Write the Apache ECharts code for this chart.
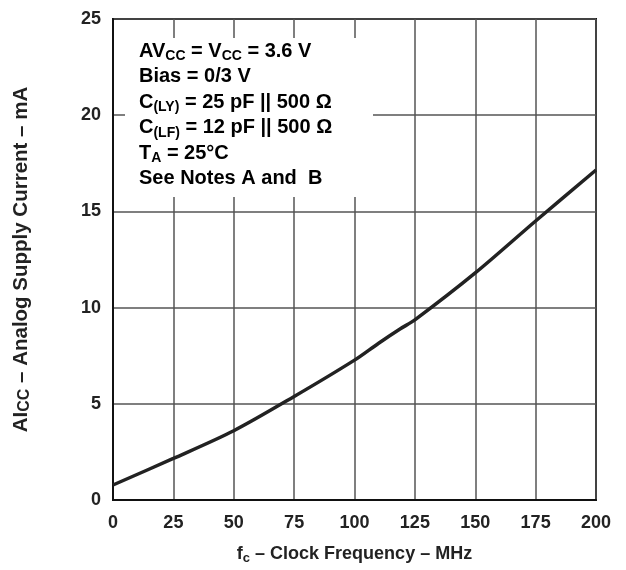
<!DOCTYPE html>
<html>
<head>
<meta charset="utf-8">
<script src="https://cdn.jsdelivr.net/npm/echarts@6/dist/echarts.min.js"></script>
<style>
  html, body { margin: 0; padding: 0; background: #fff; }
  #main { width: 626px; height: 570px; }
</style>
</head>
<body>
<div id="main"></div>
<script>
// curve: clock frequency (MHz) -> supply current (mA)
var freq = [0, 25, 50, 75, 100, 110, 119, 125, 150, 175, 200];
var current = [0.78, 2.16, 3.6, 5.38, 7.27, 8.15, 8.9, 9.36, 11.8, 14.5, 17.15];
var xTicks = [0, 25, 50, 75, 100, 125, 150, 175, 200];
var yTicks = [0, 5, 10, 15, 20, 25];
var notes = [
  '{b|AV}{s|CC}{b| = V}{s|CC}{b| = 3.6 V}',
  '{b|Bias = 0/3 V}',
  '{b|C}{s|(LY)}{b| = 25 pF || 500 Ω}',
  '{b|C}{s|(LF)}{b| = 12 pF || 500 Ω}',
  '{b|T}{s|A}{b| = 25°C}',
  '{b|See Notes A and  B}'
];

var font = '"Liberation Sans", Arial, Helvetica, sans-serif';
function mkRich(big, small, pad) {
  return {
    b: { fontSize: big, fontWeight: 'bold', fontFamily: font, color: '#222' },
    s: { fontSize: small, fontWeight: 'bold', fontFamily: font, color: '#222', padding: [pad, 0, 0, 0] }
  };
}
var noteRich = mkRich(20, 14, 11);

var pts = [];
for (var i = 0; i < freq.length; i++) {
  pts.push([freq[i], current[i]]);
}

var graphics = [{
  type: 'rect',
  left: 125, top: 38,
  shape: { width: 248, height: 159 },
  style: { fill: '#fff' },
  z: 5
}];
notes.forEach(function(t, k) {
  graphics.push({
    type: 'text',
    left: 139,
    top: 41 + k * 25.5,
    z: 6,
    style: { text: t, rich: noteRich }
  });
});

var myChart = echarts.init(document.getElementById('main'));
var option = {
  animation: false,
  grid: {
    left: 113, right: 30, top: 19, bottom: 69,
    show: true, borderColor: '#111', borderWidth: 2
  },
  xAxis: {
    type: 'value',
    min: 0, max: 200, interval: 25,
    name: '{b|f}{s|c}{b| – Clock Frequency – MHz}',
    nameLocation: 'middle',
    nameGap: 43,
    nameTextStyle: { rich: mkRich(18, 13, 9) },
    axisLine: { show: true, lineStyle: { color: '#111', width: 2 } },
    axisTick: { show: false },
    axisLabel: {
      margin: 14,
      fontSize: 18, fontWeight: 'bold', fontFamily: font, color: '#222',
      formatter: function(v) { return xTicks.indexOf(v) >= 0 ? String(v) : ''; }
    },
    splitLine: { show: true, lineStyle: { color: '#555', width: 1.5 } }
  },
  yAxis: {
    type: 'value',
    min: 0, max: 25, interval: 5,
    name: '{b|AI}{s|CC}{b| – Analog Supply Current – mA}',
    nameLocation: 'middle',
    nameGap: 80,
    nameTextStyle: { rich: mkRich(20.5, 16, 8) },
    axisLine: { show: true, lineStyle: { color: '#111', width: 2 } },
    axisTick: { show: false },
    axisLabel: {
      margin: 12,
      fontSize: 18, fontWeight: 'bold', fontFamily: font, color: '#222',
      formatter: function(v) { return yTicks.indexOf(v) >= 0 ? String(v) : ''; }
    },
    splitLine: { show: true, lineStyle: { color: '#555', width: 1.5 } }
  },
  series: [{
    type: 'line',
    data: pts,
    smooth: 0.3,
    showSymbol: false,
    lineStyle: { color: '#222', width: 3.5 },
    z: 3
  }],
  graphic: graphics
};
myChart.setOption(option);
</script>
</body>
</html>
